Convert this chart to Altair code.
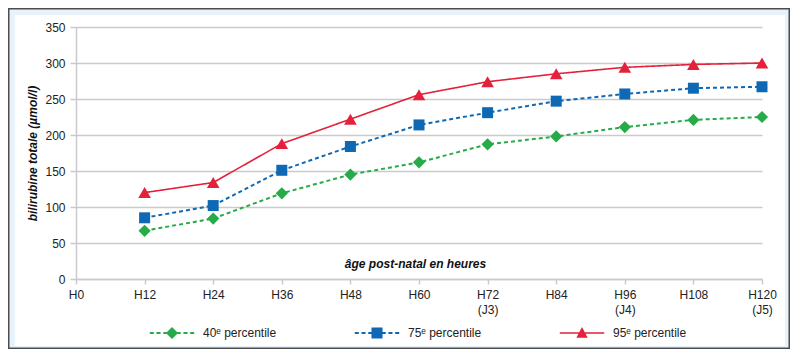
import altair as alt
import pandas as pd

# ---- data ----
x_labels = ["H0", "H12", "H24", "H36", "H48", "H60", "H72\n(J3)", "H84",
            "H96\n(J4)", "H108", "H120\n(J5)"]
x_points = x_labels[1:]
p40 = [67, 84, 119, 145, 162, 187, 198, 211, 221, 225]
p75 = [85, 102, 151, 184, 214, 231, 247, 257, 265, 267]
p95 = [120, 134, 188, 222, 256, 274, 285, 294, 298, 300]
series_names = ["40ᵉ percentile", "75ᵉ percentile", "95ᵉ percentile"]
series_values = [p40, p75, p95]
series_colors = ["#27ab48", "#0f68b4", "#e4213a"]
series_shapes = ["diamond", "square", "triangle-up"]
series_sizes = [150, 121, 160]
series_dash = [[4, 3], [4, 3], [1, 0]]
series_width = [2, 2, 1.6]

y_title = "bilirubine totale (µmol/l)"
x_title = "âge post-natal en heures"

FONT = "Liberation Sans"

rows = []
for name, vals in zip(series_names, series_values):
    for i, (lab, v) in enumerate(zip(x_points, vals)):
        rows.append({"series": name, "age": lab, "idx": i, "value": v})
df = pd.DataFrame(rows)

x_enc = alt.X("age:O",
              scale=alt.Scale(type="point", domain=x_labels, padding=0),
              axis=alt.Axis(title=x_title, labelAngle=0,
                            labelExpr="split(datum.label, '\\n')",
                            labelLineHeight=15, labelPadding=5, tickSize=5,
                            labelFontSize=12, labelColor="#222", labelFont=FONT,
                            titleX=339, titleY=-16, titleBaseline="middle",
                            titleFont=FONT, titleFontSize=12, titleFontStyle="italic",
                            titleFontWeight="bold", titleColor="#111",
                            gridColor="#cacaca", gridWidth=1.5,
                            domainColor="#cacaca", domainWidth=1.5,
                            tickColor="#cacaca", tickWidth=1.5))
y_enc = alt.Y("value:Q",
              scale=alt.Scale(domain=[0, 350], nice=False, zero=True),
              axis=alt.Axis(title=y_title, values=list(range(0, 351, 50)),
                            tickSize=6, labelPadding=5, labelFontSize=12,
                            labelColor="#222", labelFont=FONT,
                            titleX=-44, titleY=126, titleBaseline="middle",
                            titleFont=FONT, titleFontSize=12, titleFontStyle="italic",
                            titleFontWeight="bold", titleColor="#111",
                            gridColor="#cacaca", gridWidth=1.5,
                            domainColor="#cacaca", domainWidth=1.5,
                            tickColor="#cacaca", tickWidth=1.5))

layers = []

# light-blue ring and dark frame (decoration only)
ring = alt.Chart(alt.Data(values=[{}])).mark_rect(
    fill="transparent", stroke="#e7f2fb", strokeWidth=14).encode(
    x=alt.value(-68), x2=alt.value(716), y=alt.value(-19), y2=alt.value(326))
frame = alt.Chart(alt.Data(values=[{}])).mark_rect(
    fill="transparent", stroke="#4d4d4d", strokeWidth=1.5).encode(
    x=alt.value(-67.25), x2=alt.value(713.25), y=alt.value(-18.25), y2=alt.value(321.25))
layers += [ring, frame]

for name, col, shp, sz, dash, w in zip(series_names, series_colors, series_shapes,
                                       series_sizes, series_dash, series_width):
    base = alt.Chart(df).transform_filter(alt.datum.series == name)
    line = base.mark_line(color=col, strokeDash=dash, strokeWidth=w).encode(
        x=x_enc, y=y_enc, order=alt.Order("idx:Q"))
    pts = base.mark_point(filled=True, opacity=1, color=col, shape=shp, size=sz).encode(
        x=x_enc, y=y_enc)
    layers += [line, pts]

# legend symbols: line + marker paths in unit coordinates
def dashes(y=0.17):
    segs = [(-3.7, -3.03), (-2.58, -1.91), (-1.46, -0.9), (0.9, 1.46), (1.91, 2.58), (3.03, 3.7)]
    return "".join(f"M{a},{-y}H{b}V{y}H{a}Z" for a, b in segs)

legend_paths = [
    dashes() + "M0,-1L1,0L0,1L-1,0Z",
    dashes() + "M-0.92,-0.92H0.92V0.92H-0.92Z",
    "M-3.7,-0.13H3.7V0.13H-3.7Z" + "M0,-1L0.95,0.8L-0.95,0.8Z",
]

leg = alt.Legend(title=None, orient="none", legendX=90, legendY=300,
                 direction="horizontal", columns=3, symbolSize=144,
                 symbolStrokeWidth=0, labelOffset=25, columnPadding=77,
                 labelFont=FONT, labelFontSize=12, labelColor="#222",
                 labelLimit=200, padding=0)
legend_layer = alt.Chart(pd.DataFrame({"series": series_names})).transform_filter(
    "false").mark_point(filled=True, opacity=1).encode(
    color=alt.Color("series:N", scale=alt.Scale(domain=series_names, range=series_colors),
                    legend=leg),
    shape=alt.Shape("series:N", scale=alt.Scale(domain=series_names, range=legend_paths),
                    legend=leg))
layers.append(legend_layer)

chart = alt.layer(*layers).properties(
    width=686, height=252,
    autosize=alt.AutoSizeParams(type="none"),
    padding={"left": 68, "top": 19, "right": 28, "bottom": 70},
    background="white",
).configure_view(stroke=None)

chart.save("out.html", embed_options={"renderer": "svg", "actions": False})
